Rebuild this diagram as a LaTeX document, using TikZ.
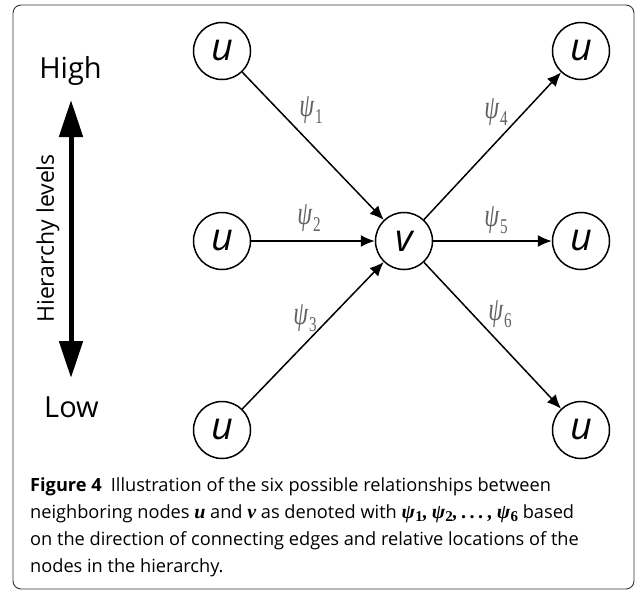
\documentclass[tikz,border=0pt]{standalone}
\usepackage{fontspec}
\setmainfont{Open Sans}
\newfontfamily\serifgr{Liberation Serif}
\usetikzlibrary{arrows.meta,positioning}

\newcommand{\psilab}[1]{\scalebox{0.72}[1]{\itshape ψ}\kern1pt\raisebox{-7pt}{\scalebox{0.72}[1]{\fontsize{21}{21}\selectfont #1}}}
\newcommand{\bmath}[1]{{\serifgr\fontsize{20}{20}\selectfont\bfseries\itshape #1}}
\newcommand{\bpsi}[1]{{\serifgr\fontsize{20}{20}\selectfont\bfseries\itshape ψ\kern0.3pt\raisebox{-3pt}{\upshape\fontsize{15}{15}\selectfont #1}}}

\tikzset{
  vertex/.style={circle, draw, line width=1.5pt, minimum size=57pt, inner sep=0pt,
    font=\fontsize{38}{38}\selectfont\itshape},
  edge/.style={line width=1.5pt, -{Latex[length=14pt,width=12pt]}},
  psitext/.style={text=black!62, inner sep=0pt, font=\serifgr\fontsize{33}{33}\selectfont},
  level/.style={font=\fontsize{29}{29}\selectfont},
}

\begin{document}
\begin{tikzpicture}[x=1pt,y=-1pt]
\useasboundingbox (0,0) rectangle (635,590);
\draw[line width=0.9pt, black!80, rounded corners=8pt] (13,5) rectangle (634,589);

\node[level, anchor=base] (high) at (70.5,78) {High};
\node[level, anchor=base] (low) at (71.5,417) {Low};
\coordinate (up) at (71,100);
\coordinate (down) at (71,378);
\draw[line width=5pt, {Triangle[length=37pt,width=23pt]}-{Triangle[length=37pt,width=23pt]}] (up) -- (down);
\node[rotate=90, font=\fontsize{23}{23}\selectfont] (levels) at (48,238.5) {Hierarchy levels};

\node[vertex] (v) at (404,241) {v};
\node[vertex] (u1) at (222,51) {u};
\node[vertex] (u2) at (222,241) {u};
\node[vertex] (u3) at (222,430) {u};
\node[vertex] (u4) at (581,51) {u};
\node[vertex] (u5) at (581,241) {u};
\node[vertex] (u6) at (581,430) {u};

\foreach \a / \b in {u1/v, u2/v, u3/v, v/u4, v/u5, v/u6} {
\draw[edge] (\a) -- (\b);
}
\foreach \i / \x / \y in {1/311/110, 2/309/218, 3/305/318, 4/496/112, 5/496/220, 6/500/314} {
\node[psitext] (psi\i) at (\x,\y) {\psilab{\i}};
}

\node[anchor=base west, align=left, inner sep=0pt,
  font=\fontsize{18.2}{27}\selectfont] (caption) at (30,572)
  {\textbf{Figure 4}\enspace Illustration of the six possible relationships between\\
   neighboring nodes \bmath{u} and \bmath{v} as denoted with \bpsi{1}\bmath{,}\kern4pt\bpsi{2}\bmath{,}\kern4pt\bmath{.\kern3.5pt.\kern3.5pt.}\kern4pt\bmath{,}\kern4pt\bpsi{6} based\\
   on the direction of connecting edges and relative locations of the\\
   nodes in the hierarchy.};
\end{tikzpicture}
\end{document}
